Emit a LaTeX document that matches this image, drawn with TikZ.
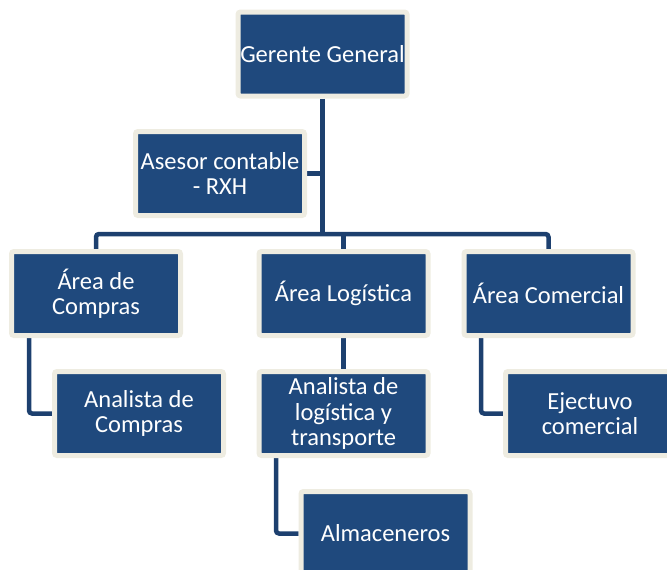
\documentclass[tikz,border=0pt]{standalone}
\usepackage{fontspec}
\setmainfont{Carlito}
\usetikzlibrary{backgrounds}
\definecolor{boxblue}{HTML}{1F497D}
\definecolor{cream}{HTML}{EEECE1}
\definecolor{linkblue}{HTML}{1D406F}
\begin{document}
\begin{tikzpicture}[x=1pt,y=-1pt,
  box/.style={draw=cream, line width=5pt, fill=boxblue, rounded corners=2.5pt,
    text=white, minimum width=169pt, minimum height=84pt, align=center,
    font=\fontsize{24.5}{25.5}\selectfont, inner sep=0pt},
  link/.style={draw=linkblue, line width=4.5pt, rounded corners=3pt}]
\useasboundingbox (0,0) rectangle (667,570);
\node[box] (gg) at (322.5,54) {Gerente General};
\node[box] (as) at (220,173.5) {Asesor contable\\- RXH};
\node[box] (ac) at (96,293.5) {Área de\\Compras};
\node[box] (al) at (343.5,293.5) {Área Logística};
\node[box] (acom) at (548.5,293.5) {Área Comercial};
\node[box] (anc) at (139,413.5) {Analista de\\Compras};
\node[box] (anl) at (343.5,413.5) {Analista de\\logística y\\transporte};
\node[box] (ej) at (590,413.5) {Ejectuvo\\comercial};
\node[box] (alm) at (385.5,533.5) {Almaceneros};
\begin{scope}[on background layer]
\coordinate (bar) at (322,234);
\draw[link] (gg.south) -- (gg.south |- bar);
\draw[link] (as.east) -- (as.east -| gg.south);
\draw[link] (ac.north) -- (ac.north |- bar) -- (acom.north |- bar) -- (acom.north);
\draw[link] (al.north) -- (al.north |- bar);
\draw[link] (al.south) -- (anl.north);
\draw[link] ([xshift=-67pt]ac.south) |- (anc.west);
\draw[link] ([xshift=-67.5pt]anl.south) |- (alm.west);
\draw[link] ([xshift=-67.5pt]acom.south) |- (ej.west);
\end{scope}
\end{tikzpicture}
\end{document}
